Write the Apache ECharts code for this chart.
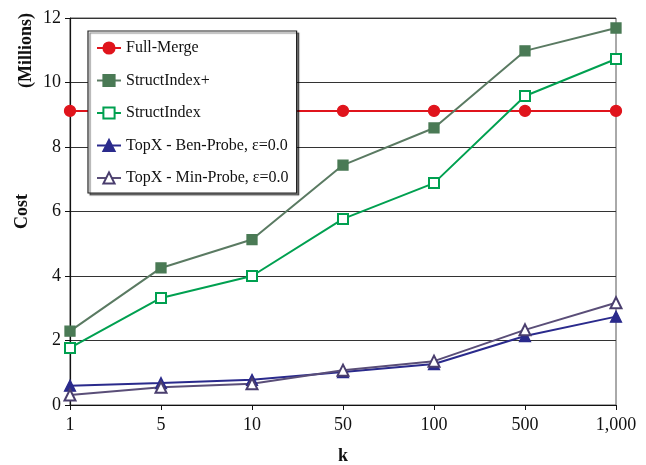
<!DOCTYPE html>
<html><head><meta charset="utf-8">
<script src="https://cdn.jsdelivr.net/npm/echarts@6/dist/echarts.min.js"></script>
<style>html,body{margin:0;padding:0;background:#fff}#c{width:646px;height:465px}</style>
</head><body><div id="c"></div>
<script>
const categories = ['1', '5', '10', '50', '100', '500', '1,000'];
const fullMerge = [9.12, 9.12, 9.12, 9.12, 9.12, 9.12, 9.12];
const structIndexPlus = [2.29, 4.25, 5.13, 7.44, 8.59, 10.98, 11.69];
const structIndex = [1.77, 3.32, 4.0, 5.77, 6.88, 9.58, 10.73];
const benProbe = [0.6, 0.68, 0.78, 1.02, 1.27, 2.14, 2.74];
const minProbe = [0.31, 0.55, 0.66, 1.08, 1.36, 2.33, 3.17];
const yTicks = [0, 2, 4, 6, 8, 10, 12];

const font = '"Liberation Serif", "DejaVu Serif", serif';
const chart = echarts.init(document.getElementById('c'));
function mk(name, data, color, lineColor, symbol, size) {
  return {
    name, type: 'line', data, symbol, symbolSize: size,
    lineStyle: { color: lineColor, width: 2 },
    itemStyle: { color: color, borderColor: color, borderWidth: 1.3 },
    emphasis: { disabled: true }, animation: false
  };
}
chart.setOption({
  animation: false,
  grid: { left: 70, right: 30, top: 18, bottom: 60, show: true, borderColor: '#555', borderWidth: 1, outerBoundsMode: 'none', containLabel: false },
  legend: {
    orient: 'vertical', left: 88, top: 31,
    padding: [9, 8, 7, 8], itemGap: 16.5, itemWidth: 24, itemHeight: 14,
    backgroundColor: '#fff', borderColor: '#222', borderWidth: 1.2,
    shadowColor: 'rgba(0,0,0,0.5)', shadowOffsetX: 2, shadowOffsetY: 2, shadowBlur: 1,
    textStyle: { fontFamily: font, fontSize: 16, color: '#111' },
    data: ['Full-Merge', 'StructIndex+', 'StructIndex', 'TopX - Ben-Probe, ε=0.0', 'TopX - Min-Probe, ε=0.0']
  },
  xAxis: {
    type: 'category', data: categories, boundaryGap: false,
    name: 'k', nameLocation: 'middle', nameGap: 42,
    nameTextStyle: { fontFamily: font, fontSize: 18, fontWeight: 'bold', color: '#111' },
    axisLine: { lineStyle: { color: '#111', width: 1.2 } },
    axisTick: { alignWithLabel: true, length: 5, lineStyle: { color: '#111' } },
    axisLabel: { fontFamily: font, fontSize: 18, color: '#111', margin: 11 },
    splitLine: { show: false }
  },
  yAxis: {
    type: 'value', min: yTicks[0], max: yTicks[yTicks.length - 1], interval: 2,
    name: 'Cost', nameLocation: 'middle', nameGap: 39,
    nameTextStyle: { fontFamily: font, fontSize: 18, fontWeight: 'bold', color: '#111' },
    axisLine: { show: true, lineStyle: { color: '#111', width: 1.2 } },
    axisTick: { show: true, length: 5, lineStyle: { color: '#111' } },
    axisLabel: { fontFamily: font, fontSize: 18, color: '#111', margin: 9 },
    splitLine: { lineStyle: { color: '#333', width: 1 } }
  },
  graphic: [{
    type: 'text', left: 17, top: 13, rotation: Math.PI / 2,
    style: { text: '(Millions)', font: 'bold 18px ' + font, fill: '#111' }
  }],
  series: [
    mk('Full-Merge', fullMerge, '#e0141c', '#e0141c', 'circle', 11),
    mk('StructIndex+', structIndexPlus, '#4a7a55', '#5a7a62', 'rect', 10),
    mk('StructIndex', structIndex, '#00a050', '#00a050', 'emptyRect', 10),
    mk('TopX - Ben-Probe, ε=0.0', benProbe, '#2a2a8c', '#2a2a8c', 'triangle', 11),
    mk('TopX - Min-Probe, ε=0.0', minProbe, '#4a3e6e', '#5a4e78', 'emptyTriangle', 11)
  ]
});
</script></body></html>
